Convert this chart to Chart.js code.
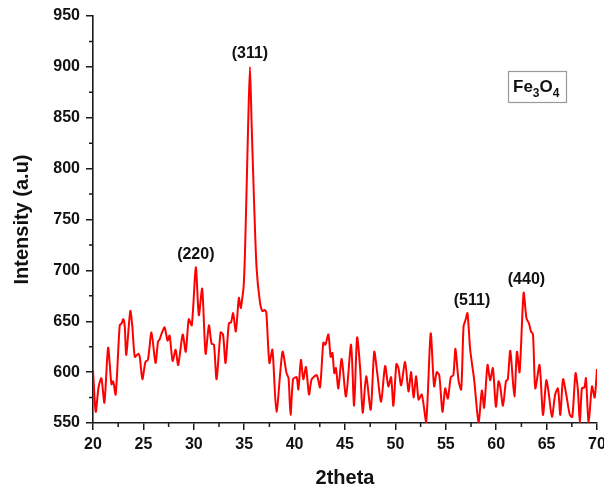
<!DOCTYPE html>
<html>
<head>
<meta charset="utf-8">
<script src="https://cdn.jsdelivr.net/npm/chart.js@4.4.1/dist/chart.umd.min.js"></script>
<style>
html,body{margin:0;padding:0;background:#fff;}
#wrap{width:604px;height:488px;}
</style>
</head>
<body>
<div id="wrap"><canvas id="c" width="604" height="488"></canvas></div>
<script>
const twoTheta = [20.0,20.27,20.55,20.83,21.13,21.5,21.83,22.0,22.25,22.65,22.85,23.0,23.15,23.3,23.7,23.9,24.15,24.5,24.65,24.9,25.2,25.45,25.8,26.2,26.45,26.6,26.85,27.1,27.4,27.6,27.9,28.2,28.45,28.9,29.2,29.5,29.8,30.2,30.5,30.83,31.17,31.5,31.76,32.0,32.26,32.66,32.9,33.15,33.48,33.7,33.9,34.17,34.47,34.65,34.8,34.95,35.07,35.24,35.4,35.57,35.73,35.99,36.23,36.56,36.8,37.06,37.2,37.5,37.8,38.2,38.8,39.2,39.4,39.6,39.85,40.2,40.37,40.63,40.86,41.13,41.43,41.7,42.2,42.52,42.85,43.05,43.35,43.58,43.75,43.94,44.1,44.34,44.67,45.1,45.6,45.9,46.2,46.5,46.76,47.1,47.55,47.9,48.2,48.58,48.98,49.3,49.57,49.8,50.1,50.3,50.57,50.96,51.3,51.56,51.8,52.06,52.3,52.62,53.05,53.5,53.84,54.1,54.35,54.67,54.94,55.2,55.5,55.75,55.96,56.26,56.53,56.76,56.95,57.15,57.42,57.82,58.25,58.58,58.8,59.14,59.4,59.67,59.97,60.23,60.4,60.67,60.97,61.15,61.4,61.8,62.06,62.32,62.72,63.0,63.25,63.45,63.65,63.88,64.3,64.64,64.97,65.2,65.53,65.85,66.13,66.36,66.63,66.95,67.3,67.55,67.87,68.1,68.3,68.5,68.75,68.9,69.17,69.5,69.77,70.0];
const intensity = [602,561,585,594,570,624,588,591,578,646,648,652,645,617,660,645,615,618,614,593,610,612,639,609,630,632,639,644,631,636,611,622,607,637,620,652,646,703,656,682,618,646,628,627,593,639,637,609,648,649,658,640,673,663,672,685,715,781,846,900,846,764,702,669,660,661,658,609,622,561,620,599,594,558,593,595,583,612,593,605,578,593,597,585,629,627,637,615,619,599,604,584,613,576,627,567,634,604,560,596,563,620,599,571,606,586,595,567,608,604,587,610,581,600,575,596,573,578,551,638,586,600,597,561,584,574,595,597,623,592,583,645,651,658,622,592,551,582,565,607,592,604,566,591,586,567,591,593,621,576,620,600,678,653,648,640,637,584,607,558,592,580,556,578,584,558,593,578,558,556,599,583,550,584,585,594,550,586,575,603];
const xTicks = [20,25,30,35,40,45,50,55,60,65,70];
const yTicks = [550,600,650,700,750,800,850,900,950];
const peakLabels = ['(220)','(311)','(511)','(440)'];
const peakX = [30.2,35.57,57.6,63.0];
const peakY = [703,900,658,678];
const xTitle = '2theta';
const yTitle = 'Intensity (a.u)';

const FONT = '"Liberation Sans", Arial, Helvetica, sans-serif';
const AX = '#1a1a1a';

const extras = {
  id: 'extras',
  afterDraw(chart) {
    const ctx = chart.ctx;
    const xs = chart.scales.x, ys = chart.scales.y;
    const ca = chart.chartArea;
    ctx.save();
    // minor ticks
    ctx.strokeStyle = AX; ctx.lineWidth = 1.5;
    ctx.beginPath();
    for (let i = 0; i < xTicks.length - 1; i++) {
      const v = (xTicks[i] + xTicks[i+1]) / 2;
      const p = xs.getPixelForValue(v);
      ctx.moveTo(p, ca.bottom); ctx.lineTo(p, ca.bottom + 4);
    }
    for (let i = 0; i < yTicks.length - 1; i++) {
      const v = (yTicks[i] + yTicks[i+1]) / 2;
      const p = ys.getPixelForValue(v);
      ctx.moveTo(ca.left, p); ctx.lineTo(ca.left - 4, p);
    }
    ctx.stroke();
    // peak labels
    ctx.fillStyle = '#111';
    ctx.font = 'bold 16px ' + FONT;
    ctx.textAlign = 'center';
    ctx.textBaseline = 'middle';
    for (let i = 0; i < peakLabels.length; i++) {
      const px = xs.getPixelForValue(peakX[i]);
      const py = ys.getPixelForValue(peakY[i]);
      ctx.fillText(peakLabels[i], px, py - 13);
    }
    // Fe3O4 box
    const bx = ca.right - 89, by = ca.top + 55, bw = 58, bh = 31;
    ctx.fillStyle = '#fff';
    ctx.fillRect(bx, by, bw, bh);
    ctx.strokeStyle = '#9a9a9a'; ctx.lineWidth = 1.2;
    ctx.strokeRect(bx + 0.5, by + 0.5, bw, bh);
    ctx.fillStyle = '#111';
    ctx.textAlign = 'left';
    ctx.textBaseline = 'alphabetic';
    let tx = bx + 5;
    const base = by + 21;
    const parts = [['Fe',17,0],['3',12,5],['O',17,0],['4',12,5]];
    for (const [t, s, dy] of parts) {
      ctx.font = 'bold ' + s + 'px ' + FONT;
      ctx.fillText(t, tx, base + dy);
      tx += ctx.measureText(t).width;
    }
    ctx.restore();
  }
};

new Chart(document.getElementById('c'), {
  type: 'line',
  data: {
    datasets: [{
      data: twoTheta.map((x, i) => ({x: x, y: intensity[i]})),
      borderColor: '#ff0000',
      borderWidth: 2,
      pointRadius: 0,
      tension: 0.25,
      fill: false
    }]
  },
  options: {
    responsive: false,
    animation: false,
    devicePixelRatio: 1,
    layout: { padding: { top: 16, right: 7, left: 0, bottom: 0 } },
    plugins: { legend: { display: false }, tooltip: { enabled: false } },
    scales: {
      x: {
        type: 'linear', min: 20, max: 70,
        afterBuildTicks(s) { s.ticks = xTicks.map(v => ({value: v})); },
        afterFit(s) { s.height = 65; s.paddingLeft = 0; s.paddingRight = 0; },
        border: { display: true, color: AX, width: 1.6 },
        grid: { drawOnChartArea: false, drawTicks: true, tickLength: 7, color: AX, lineWidth: 1.5 },
        ticks: { color: '#111', font: { family: FONT, size: 16, weight: 'bold' }, padding: 5, maxRotation: 0 },
        title: { display: true, text: xTitle, color: '#111', font: { family: FONT, size: 20, weight: 'bold', lineHeight: 1 }, padding: { top: 0, bottom: 0 } }
      },
      y: {
        type: 'linear', min: 550, max: 950,
        afterBuildTicks(s) { s.ticks = yTicks.map(v => ({value: v})); },
        afterFit(s) { s.width = 93; s.paddingTop = 0; s.paddingBottom = 0; },
        border: { display: true, color: AX, width: 1.6 },
        grid: { drawOnChartArea: false, drawTicks: true, tickLength: 7, color: AX, lineWidth: 1.5 },
        ticks: { color: '#111', font: { family: FONT, size: 16, weight: 'bold' }, padding: 6 },
        title: { display: true, text: yTitle, color: '#111', font: { family: FONT, size: 20, weight: 'bold', lineHeight: 1.2 }, padding: { top: 10, bottom: 0 } }
      }
    }
  },
  plugins: [extras]
});
</script>
</body>
</html>
